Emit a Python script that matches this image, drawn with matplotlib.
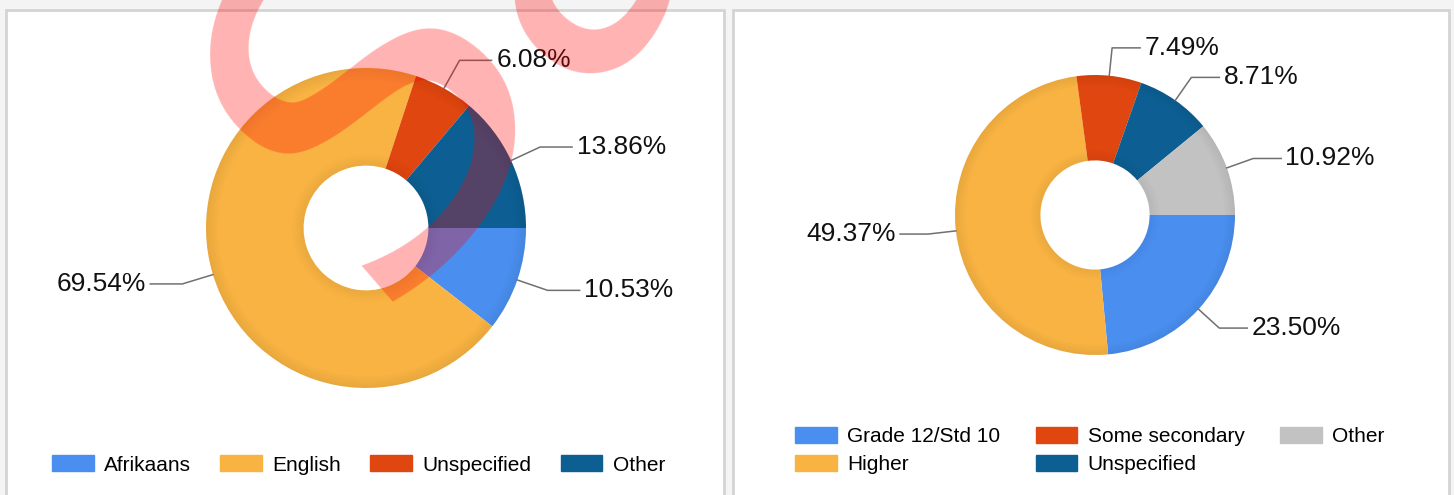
import numpy as np
import matplotlib.pyplot as plt
from matplotlib.patches import Rectangle, Patch

plt.rcParams['font.family'] = ['Liberation Sans', 'DejaVu Sans']

# data
lang_labels = ['Afrikaans', 'English', 'Unspecified', 'Other']
lang_values = [10.53, 69.54, 6.08, 13.86]
lang_colors = ['#4a8ff0', '#f8b342', '#e0460f', '#0d5f93']

edu_labels = ['Grade 12/Std 10', 'Higher', 'Some secondary', 'Unspecified', 'Other']
edu_values = [23.50, 49.37, 7.49, 8.71, 10.92]
edu_colors = ['#4a8ff0', '#f8b342', '#e0460f', '#0d5f93', '#c2c2c2']

W, H = 1454, 495
fig = plt.figure(figsize=(W / 100, H / 100), dpi=100)
fig.patch.set_facecolor('#f4f4f4')


def fig_box(x0, y0, x1, y1):
    # pixel box (y from top) -> figure fraction rect
    return [x0 / W, 1 - y1 / H, (x1 - x0) / W, (y1 - y0) / H]


# panels
for x0, x1 in [(6, 724), (733, 1449)]:
    b = fig_box(x0, 10, x1, H + 10)
    fig.add_artist(Rectangle((b[0], b[1]), b[2], b[3], transform=fig.transFigure,
                             facecolor='white', edgecolor='#d4d4d4', lw=2, zorder=-1))


def donut(box, cx, cy, R, values, colors):
    x0, y0, x1, y1 = box
    ax = fig.add_axes(fig_box(*box))
    wedges, _ = ax.pie(values, colors=colors, startangle=0, counterclock=False,
                       radius=1, wedgeprops=dict(width=0.61, edgecolor='none'))
    # soft bevel shading on the ring edges
    for k in range(6):
        ax.pie([1], radius=1 - k * 0.012, colors=['black'],
               wedgeprops=dict(width=0.012, alpha=0.06 * (6 - k) / 6, edgecolor='none'))
        ax.pie([1], radius=0.39 + (k + 1) * 0.012, colors=['black'],
               wedgeprops=dict(width=0.012, alpha=0.05 * (6 - k) / 6, edgecolor='none'))
    ax.set_aspect('auto')
    ax.set_xlim((x0 - cx) / R, (x1 - cx) / R)
    ax.set_ylim((cy - y1) / R, (cy - y0) / R)
    ax.axis('off')
    for w, v in zip(wedges, values):
        a = np.deg2rad((w.theta1 + w.theta2) / 2)
        c, s = np.cos(a), np.sin(a)
        sgn = 1 if c >= 0 else -1
        kx, ky = 1.2 * c, 1.2 * s
        ex = kx + sgn * 0.2
        ax.plot([c, kx, ex], [s, ky, ky], color='#707070', lw=1.1, zorder=5)
        ax.text(ex + sgn * 0.03, ky, f'{v:.2f}%', fontsize=19, color='#111111',
                ha='left' if sgn > 0 else 'right', va='center')
    return ax


donut((6, 10, 724, H), 366, 228, 160, lang_values, lang_colors)
donut((733, 10, 1449, H), 1095, 215, 140, edu_values, edu_colors)

leg_kw = dict(frameon=False, fontsize=15, handlelength=2.0, handleheight=0.8,
              handletextpad=0.5, borderpad=0, borderaxespad=0, labelspacing=0.4)

h1 = [Patch(color=c, label=l) for c, l in zip(lang_colors, lang_labels)]
fig.legend(handles=h1, ncol=4, loc='center left', columnspacing=1.4,
           bbox_to_anchor=(52 / W, 1 - 465 / H), **leg_kw)

h2 = [Patch(color=c, label=l) for c, l in zip(edu_colors, edu_labels)]
fig.legend(handles=h2, ncol=3, loc='center left', columnspacing=1.7,
           bbox_to_anchor=(795 / W, 1 - 450.5 / H), **leg_kw)

# watermark (rotated letters, partly off the top edge)
wm = dict(fontsize=330, style='italic', family='DejaVu Sans', color='red', alpha=0.3,
          rotation=52, rotation_mode='anchor', ha='center', va='center', zorder=10)
fig.text(392 / W, 1 - 118 / H, 'S', **wm)
fig.text(566 / W, 1 + 92 / H, 'a', **wm)

fig.savefig('out.png', dpi=100, facecolor=fig.get_facecolor())
